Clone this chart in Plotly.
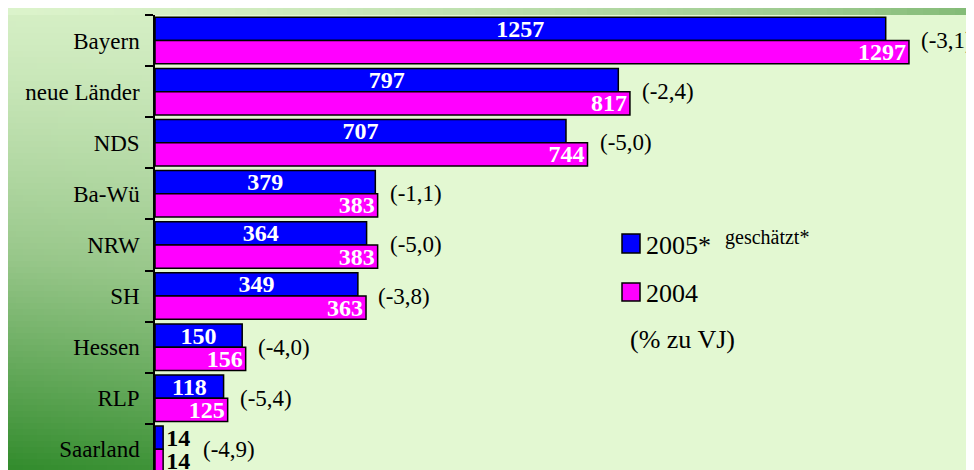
import plotly.graph_objects as go

# ---------------- data ----------------
categories = ["Bayern", "neue Länder", "NDS", "Ba-Wü", "NRW", "SH", "Hessen", "RLP", "Saarland"]
v2005 = [1257, 797, 707, 379, 364, 349, 150, 118, 14]
v2004 = [1297, 817, 744, 383, 383, 363, 156, 125, 14]
change = ["(-3,1)", "(-2,4)", "(-5,0)", "(-1,1)", "(-5,0)", "(-3,8)", "(-4,0)", "(-5,4)", "(-4,9)"]
series_names = ["2005*", "2004"]

W, H = 974, 470          # browser window
OFF = 8                  # page body margin
FW, FH = W - OFF, H - OFF
SERIF = "Liberation Serif, Times New Roman, Times, serif"
BLUE = "#0000ff"
MAGENTA = "#ff00ff"

# ---------------- background gradient (decoration, page pixel coords) ----------------
def edges(a, b, step):
    out = []
    v = a
    while v < b:
        out.append(v)
        v += step
    return out

xe = [OFF] + edges(OFF + 1, 155, 7) + edges(155, 969, 16) + [969, 974]
ye = [OFF] + edges(15, 470, 6) + [470]

def shade(xc, yc):
    if yc < 15:
        t = xc / W
        return 0.05 + 0.55 * t ** 1.4
    if xc < 155:
        t = (yc - 15) / 455
        return 0.1 + 0.82 * t ** 1.25 + 0.06 * (1 - xc / 155) * t
    if xc > 969:
        t = yc / H
        return 0.6 * (1 - t) ** 1.5
    return 0.0

zbg = []
for j in range(len(ye) - 1):
    yc = (ye[j] + ye[j + 1]) / 2
    row = []
    for i in range(len(xe) - 1):
        xc = (xe[i] + xe[i + 1]) / 2
        row.append(shade(xc, yc))
    zbg.append(row)

fig = go.Figure()
fig.add_trace(go.Heatmap(
    x=xe, y=ye, z=zbg, zmin=0, zmax=1, showscale=False, hoverinfo="skip",
    colorscale=[[0, "#e3f8d2"], [0.5, "#98c78a"], [1, "#2c8827"]],
    xaxis="x", yaxis="y",
))

# ---------------- bars ----------------
def positions(vals):
    return ["outside" if v < 60 else "inside" for v in vals]

for name, vals, color, anchor in [(series_names[0], v2005, BLUE, "middle"),
                                  (series_names[1], v2004, MAGENTA, "end")]:
    fig.add_trace(go.Bar(
        name=name, y=categories, x=vals, orientation="h",
        xaxis="x2", yaxis="y2",
        marker=dict(color=color, line=dict(color="black", width=1.5)),
        text=[str(v) for v in vals], textposition=positions(vals),
        insidetextanchor=anchor, constraintext="none", cliponaxis=False,
        insidetextfont=dict(family=SERIF, size=24, color="white", weight="bold"),
        outsidetextfont=dict(family=SERIF, size=24, color="black", weight="bold"),
        hoverinfo="skip",
    ))

annotations = []
for cat, v5, v4, ch in zip(categories, v2005, v2004, change):
    annotations.append(dict(
        x=max(v5, v4), y=cat, xref="x2", yref="y2", text=ch, showarrow=False,
        xanchor="left", yanchor="middle", xshift=38 if v4 < 60 else 10,
        font=dict(family=SERIF, size=23, color="black"),
    ))

# ---------------- legend (custom, page pixel coords) ----------------
shapes = [
    dict(type="rect", xref="x", yref="y", x0=622, x1=640, y0=234, y1=253,
         fillcolor=BLUE, line=dict(color="black", width=1.5), layer="above"),
    dict(type="rect", xref="x", yref="y", x0=622, x1=640, y0=283, y1=301,
         fillcolor=MAGENTA, line=dict(color="black", width=1.5), layer="above"),
]
annotations += [
    dict(x=644, y=245, xref="x", yref="y", text=series_names[0], showarrow=False,
         xanchor="left", yanchor="middle", font=dict(family=SERIF, size=26, color="black")),
    dict(x=723, y=237, xref="x", yref="y", text="geschätzt*", showarrow=False,
         xanchor="left", yanchor="middle", font=dict(family=SERIF, size=20, color="black")),
    dict(x=644, y=293, xref="x", yref="y", text=series_names[1], showarrow=False,
         xanchor="left", yanchor="middle", font=dict(family=SERIF, size=26, color="black")),
    dict(x=628, y=339, xref="x", yref="y", text="(% zu VJ)", showarrow=False,
         xanchor="left", yanchor="middle", font=dict(family=SERIF, size=26, color="black")),
]

fig.update_layout(
    width=FW, height=FH,
    margin=dict(l=0, r=0, t=0, b=0),
    paper_bgcolor="white", plot_bgcolor="rgba(0,0,0,0)",
    showlegend=False,
    barmode="group", bargap=0.09, bargroupgap=0,
    xaxis=dict(domain=[0, 1], range=[OFF, W], visible=False, fixedrange=True),
    yaxis=dict(domain=[0, 1], range=[H, OFF], visible=False, fixedrange=True),
    xaxis2=dict(domain=[(155 - OFF) / FW, (970 - OFF) / FW], range=[0, 1402], anchor="y2",
                visible=False, showgrid=False, zeroline=False),
    yaxis2=dict(domain=[0, 1 - (15 - OFF) / FH], anchor="x2", type="category",
                categoryorder="array", categoryarray=categories,
                range=[8.404, -0.5], autorange=False,
                showline=True, linecolor="black", linewidth=1.5,
                ticks="outside", ticklen=8, tickwidth=1.5, tickcolor="black",
                tickson="boundaries", ticklabelstandoff=9, showgrid=False,
                tickfont=dict(family=SERIF, size=23, color="black")),
    shapes=shapes,
    annotations=annotations,
)

fig.write_html("out.html")
